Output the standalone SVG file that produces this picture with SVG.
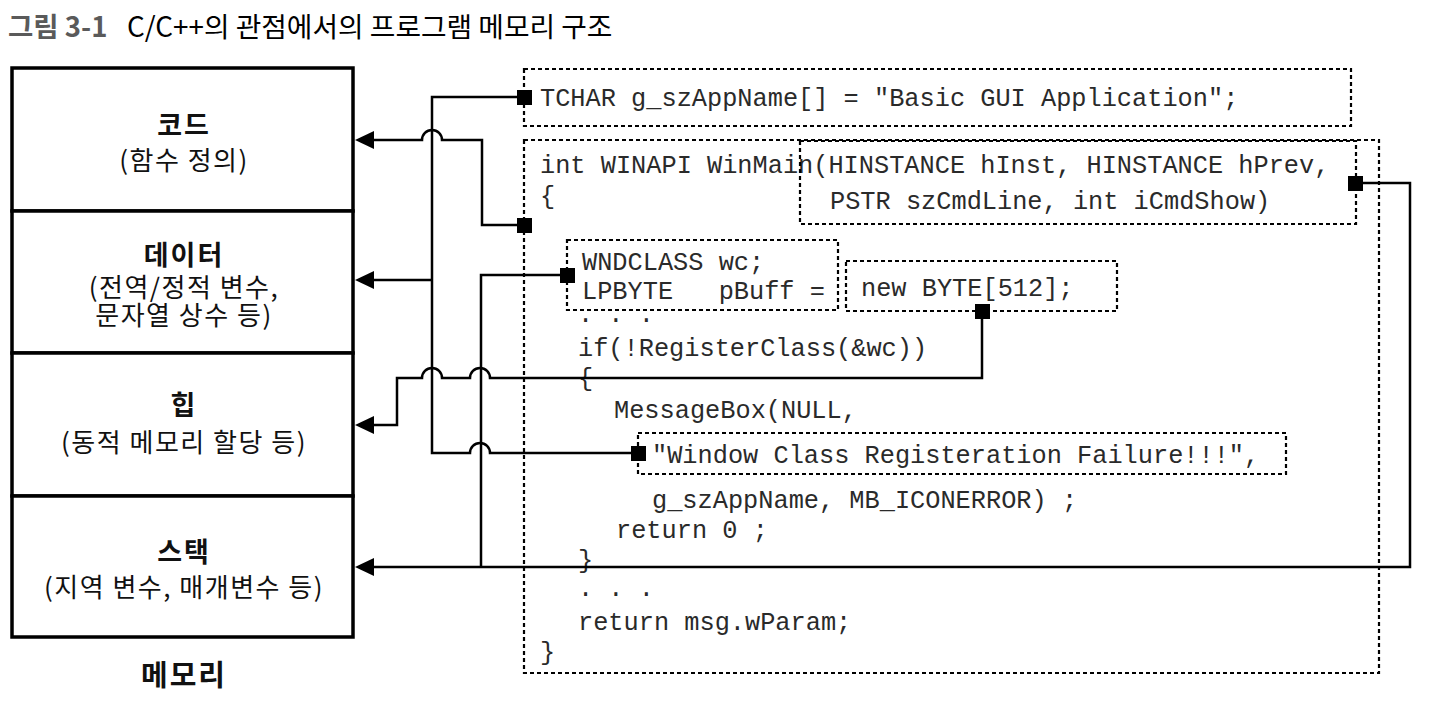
<svg xmlns="http://www.w3.org/2000/svg" width="1444" height="720" viewBox="0 0 1444 720">
<style>
.kr{font-family:"Noto Sans CJK KR","Noto Sans",sans-serif;}
.lbl{font-size:27px;font-weight:bold;text-anchor:middle;fill:#111;letter-spacing:2px;}
.sub{font-size:26px;text-anchor:middle;fill:#111;letter-spacing:1.5px;}
.code{font-family:"Liberation Mono","DejaVu Sans Mono",monospace;font-size:25.3px;fill:#2a2a2a;white-space:pre;}
.mem{fill:#fff;stroke:#000;stroke-width:3.5;}
.dash{fill:none;stroke:#000;stroke-width:2.2;stroke-dasharray:4 3;}
.conn{fill:none;stroke:#000;stroke-width:2.5;}
.sq{fill:#000;}
</style>
<defs>
<marker id="ah" markerWidth="20" markerHeight="18" refX="0" refY="9" orient="auto" markerUnits="userSpaceOnUse">
<path d="M0,0 L19,9 L0,18 Z" fill="#000"/>
</marker>
</defs>
<rect width="1444" height="720" fill="#fff"/>

<g id="title">
<text x="8" y="37" class="kr" font-size="27.5" font-weight="bold" fill="#5a5a5a">그림 3-1</text>
<text x="127" y="37" class="kr" font-size="27.8" fill="#000">C/C++의 관점에서의 프로그램 메모리 구조</text>
</g>

<g id="memory">
<g id="mem-code">
<rect class="mem" x="12" y="68" width="341" height="143"/>
<text class="kr lbl" x="184" y="135">코드</text>
<text class="kr sub" x="184" y="170">(함수 정의)</text>
</g>
<g id="mem-data">
<rect class="mem" x="12" y="211" width="341" height="142"/>
<text class="kr lbl" x="184" y="265">데이터</text>
<text class="kr sub" x="184" y="297">(전역/정적 변수,</text>
<text class="kr sub" x="184" y="325">문자열 상수 등)</text>
</g>
<g id="mem-heap">
<rect class="mem" x="12" y="353" width="341" height="143"/>
<text class="kr lbl" x="184" y="415">힙</text>
<text class="kr sub" x="184" y="452">(동적 메모리 할당 등)</text>
</g>
<g id="mem-stack">
<rect class="mem" x="12" y="496" width="341" height="141"/>
<text class="kr lbl" x="184" y="562">스택</text>
<text class="kr sub" x="184" y="597">(지역 변수, 매개변수 등)</text>
</g>
<text class="kr" x="184" y="686" font-size="29" font-weight="bold" letter-spacing="2" text-anchor="middle" fill="#111">메모리</text>
</g>

<g id="code-global">
<rect class="dash" x="524" y="69" width="827" height="57"/>
<text class="code" x="540" y="106">TCHAR g_szAppName[] = "Basic GUI Application";</text>
</g>

<g id="code-main">
<rect class="dash" x="524" y="140" width="855" height="533"/>
<text class="code" x="540" y="173">int WINAPI WinMain(HINSTANCE hInst, HINSTANCE hPrev,</text>
<text class="code" x="540" y="204">{</text>
<text class="code" x="578" y="322">. . .</text>
<text class="code" x="578" y="356">if(!RegisterClass(&amp;wc))</text>
<text class="code" x="578" y="386">{</text>
<text class="code" x="614" y="418">MessageBox(NULL,</text>
<text class="code" x="652" y="508">g_szAppName, MB_ICONERROR) ;</text>
<text class="code" x="616" y="538">return 0 ;</text>
<text class="code" x="578" y="568">}</text>
<text class="code" x="578" y="596">. . .</text>
<text class="code" x="578" y="630">return msg.wParam;</text>
<text class="code" x="540" y="660">}</text>
</g>

<g id="code-params">
<rect class="dash" x="800" y="141" width="556" height="83"/>
<text class="code" x="830" y="209">PSTR szCmdLine, int iCmdShow)</text>
</g>

<g id="code-locals">
<rect class="dash" x="567" y="240" width="271" height="70"/>
<text class="code" x="582" y="270">WNDCLASS wc;</text>
<text class="code" x="582" y="299">LPBYTE   pBuff =</text>
</g>

<g id="code-new">
<rect class="dash" x="846" y="261" width="271" height="50"/>
<text class="code" x="861" y="296">new BYTE[512];</text>
</g>

<g id="code-string">
<rect class="dash" x="638" y="433" width="648" height="41"/>
<text class="code" x="652" y="463">"Window Class Registeration Failure!!!",</text>
</g>

<g id="connectors">
<path class="conn" d="M524,225 H482 V140 H442 A10,10 0 0 0 422,140 H374" marker-end="url(#ah)"/>
<path class="conn" d="M524,97 H432 V453 H470 A10,10 0 0 1 490,453 H638"/>
<path class="conn" d="M432,280 H374" marker-end="url(#ah)"/>
<path class="conn" d="M982,311 V378 H490 A10,10 0 0 0 470,378 H442 A10,10 0 0 0 422,378 H397 V425 H374" marker-end="url(#ah)"/>
<path class="conn" d="M1355,183 H1410 V567 H374" marker-end="url(#ah)"/>
<path class="conn" d="M567,275 H481 V567"/>
<rect class="sq" x="517" y="90" width="15" height="15"/>
<rect class="sq" x="517" y="218" width="15" height="15"/>
<rect class="sq" x="560" y="268" width="15" height="15"/>
<rect class="sq" x="975" y="304" width="15" height="15"/>
<rect class="sq" x="1348" y="176" width="15" height="15"/>
<rect class="sq" x="631" y="446" width="15" height="15"/>
</g>
</svg>
